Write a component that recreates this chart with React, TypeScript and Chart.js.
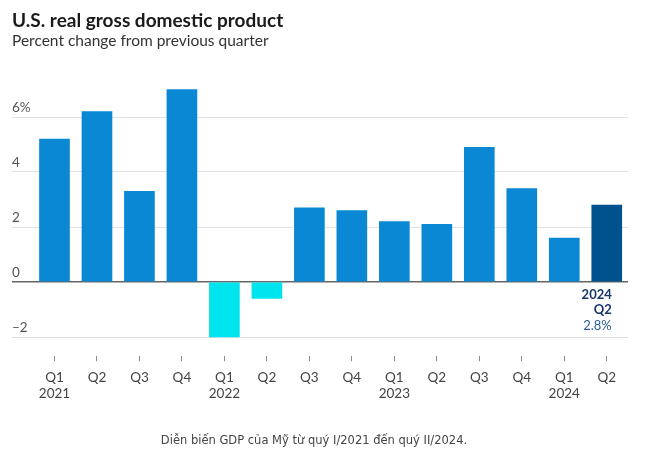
import React, { useEffect, useRef } from "react";
import { Chart, registerables } from "chart.js";

Chart.register(...registerables);

const quarters = ["Q1", "Q2", "Q3", "Q4", "Q1", "Q2", "Q3", "Q4", "Q1", "Q2", "Q3", "Q4", "Q1", "Q2"];
const years = ["2021", "", "", "", "2022", "", "", "", "2023", "", "", "", "2024", ""];
const gdpChange = [5.2, 6.2, 3.3, 7.0, -2.0, -0.6, 2.7, 2.6, 2.2, 2.1, 4.9, 3.4, 1.6, 2.8];
const yTicks = [-2, 0, 2, 4, 6];
const highlightLines = ["2024", "Q2", "2.8%"];

const FONT = "Lato, 'Open Sans', sans-serif";
const BLUE = "#0b88d3";
const CYAN = "#00e4ee";
const DARK = "#00528f";

const annotationPlugin = {
  id: "lastAnnotation",
  afterDatasetsDraw(chart: any) {
    const { ctx, scales } = chart;
    const last = gdpChange.length - 1;
    const x = scales.x.getPixelForValue(last) + 5;
    const y0 = scales.y.getPixelForValue(0);
    ctx.save();
    ctx.textAlign = "right";
    ctx.textBaseline = "middle";
    ctx.fillStyle = "#17366b";
    ctx.font = `bold 13px ${FONT}`;
    ctx.fillText(highlightLines[0], x, y0 + 13);
    ctx.fillText(highlightLines[1], x, y0 + 28);
    ctx.font = `13px ${FONT}`;
    ctx.fillStyle = "#2b5c93";
    ctx.fillText(highlightLines[2], x, y0 + 44);
    ctx.restore();
  },
};

function GdpChart() {
  const ref = useRef<HTMLCanvasElement | null>(null);
  useEffect(() => {
    if (!ref.current) return;
    const last = gdpChange.length - 1;
    const chart = new Chart(ref.current, {
      type: "bar",
      data: {
        datasets: [
          {
            data: gdpChange.map((v, i) => ({ x: i, y: v })),
            backgroundColor: gdpChange.map((v, i) => (i === last ? DARK : v < 0 ? CYAN : BLUE)),
            barThickness: 30,
            borderWidth: 0,
          },
        ],
      },
      options: {
        animation: false,
        responsive: false,
        maintainAspectRatio: false,
        layout: { padding: { top: 75.75, left: 12, right: 19, bottom: 35.75 } },
        plugins: { legend: { display: false }, tooltip: { enabled: false } },
        scales: {
          x: {
            type: "linear",
            offset: false,
            min: -1,
            max: 13.5,
            afterBuildTicks: (scale: any) => {
              scale.ticks = quarters.map((_, i) => ({ value: i }));
            },
            afterFit: (scale: any) => {
              scale.height = 60;
            },
            border: { display: false },
            grid: {
              display: true,
              offset: false,
              drawOnChartArea: false,
              drawTicks: true,
              tickLength: 5,
              color: "#8a8a8a",
              lineWidth: 1,
            },
            ticks: {
              autoSkip: false,
              maxRotation: 0,
              padding: 8,
              color: "#444",
              font: { family: FONT, size: 13.5 },
              callback: (value: any) => {
                const i = Math.round(Number(value));
                return years[i] ? [quarters[i], years[i]] : quarters[i];
              },
            },
          },
          y: {
            min: -2.7,
            max: 7.5,
            afterBuildTicks: (scale: any) => {
              scale.ticks = yTicks.map((v) => ({ value: v }));
            },
            afterFit: (scale: any) => {
              scale.width = 0;
            },
            border: { display: false },
            grid: {
              drawTicks: false,
              color: (c: any) => (c.tick && c.tick.value === 0 ? "#666" : "#e2e2e2"),
              lineWidth: (c: any) => (c.tick && c.tick.value === 0 ? 1.5 : 1),
            },
            ticks: {
              mirror: true,
              padding: 0,
              labelOffset: -9,
              color: "#555",
              font: { family: FONT, size: 13.5 },
              callback: (value: any) => {
                const v = Number(value);
                if (v === 6) return "6%";
                if (v < 0) return "\u2013" + Math.abs(v);
                return String(v);
              },
            },
          },
        },
      },
      plugins: [annotationPlugin],
    });
    return () => chart.destroy();
  }, []);
  return (
    <canvas
      ref={ref}
      width={647}
      height={452}
      style={{ position: "absolute", left: 0, top: 0, width: 647, height: 452 }}
    />
  );
}

export default function App() {
  return (
    <div
      style={{
        position: "fixed",
        left: 0,
        top: 0,
        width: 647,
        height: 452,
        background: "#fff",
        overflow: "hidden",
      }}
    >
      <GdpChart />
      <div
        style={{
          position: "absolute",
          left: 12,
          top: 10,
          fontFamily: FONT,
          fontWeight: 700,
          fontSize: 19,
          lineHeight: "19px",
          color: "#1a1a1a",
          whiteSpace: "nowrap",
        }}
      >
        U.S. real gross domestic product
      </div>
      <div
        style={{
          position: "absolute",
          left: 12,
          top: 33,
          fontFamily: FONT,
          fontSize: 15.5,
          lineHeight: "15px",
          color: "#333",
          whiteSpace: "nowrap",
        }}
      >
        Percent change from previous quarter
      </div>
      <div
        style={{
          position: "absolute",
          left: 0,
          width: 628,
          top: 433,
          textAlign: "center",
          fontFamily: "'DejaVu Sans', Verdana, sans-serif",
          fontSize: 11.5,
          lineHeight: "14px",
          color: "#444",
          whiteSpace: "nowrap",
        }}
      >
        Diễn biến GDP của Mỹ từ quý I/2021 đến quý II/2024.
      </div>
    </div>
  );
}
